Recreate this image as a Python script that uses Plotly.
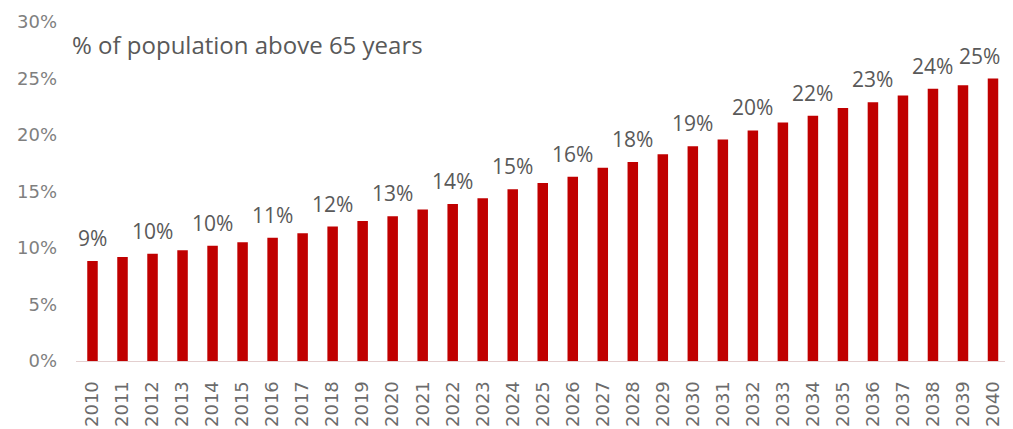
import plotly.graph_objects as go

years = [str(y) for y in range(2010, 2041)]
share_65plus = [8.85, 9.2, 9.5, 9.8, 10.2, 10.5, 10.9, 11.3, 11.9, 12.4,
                12.8, 13.4, 13.9, 14.4, 15.2, 15.75, 16.3, 17.1, 17.6, 18.3,
                19.0, 19.6, 20.4, 21.1, 21.7, 22.4, 22.9, 23.5, 24.1, 24.4, 25.0]
label_years = ["2010", "2012", "2014", "2016", "2018", "2020", "2022", "2024",
               "2026", "2028", "2030", "2032", "2034", "2036", "2038", "2040"]
label_texts = ["9%", "10%", "10%", "11%", "12%", "13%", "14%", "15%",
               "16%", "18%", "19%", "20%", "22%", "23%", "24%", "25%"]
y_ticks = [0, 5, 10, 15, 20, 25, 30]
y_tick_text = ["0%", "5%", "10%", "15%", "20%", "25%", "30%"]
title_text = "% of population above 65 years"

FONT = "Open Sans"
TICK_FONT = "DejaVu Sans"

L, R, T, B = 68, 13, 14, 76
W, H = 1013, 429
PW = W - L - R
PH = H - T - B

fig = go.Figure()
fig.add_trace(go.Bar(
    x=years, y=share_65plus,
    marker=dict(color="#C00000", line=dict(width=0)),
    hoverinfo="skip",
))

for yr, txt in zip(label_years, label_texts):
    idx = years.index(yr)
    val = share_65plus[idx]
    fig.add_annotation(
        x=idx, y=val, text=txt, showarrow=False,
        xref="x", yref="y", yanchor="bottom", yshift=7,
        xshift=-13 if idx == len(years) - 1 else 0,
        font=dict(family=FONT, size=21, color="#595959"),
    )

fig.add_annotation(
    x=-6 / PW, y=(PH + T - 37) / PH, xref="paper", yref="paper",
    text=title_text, showarrow=False, xanchor="left", yanchor="middle",
    font=dict(family=FONT, size=24, color="#595959"),
)

fig.update_layout(
    width=W, height=H,
    margin=dict(l=L, r=R, t=T, b=B, autoexpand=False),
    paper_bgcolor="white", plot_bgcolor="white",
    bargap=0.65,
    showlegend=False,
    xaxis=dict(
        type="category", tickangle=-90, showgrid=False, zeroline=False,
        showline=True, linecolor="#e3cfcf", linewidth=1,
        ticks="", ticklabelstandoff=12, automargin=False,
        tickfont=dict(family=TICK_FONT, size=18, color="#6b6b6b"),
    ),
    yaxis=dict(
        range=[0, 30], tickvals=y_ticks, ticktext=y_tick_text,
        showgrid=False, zeroline=False, showline=False, ticks="",
        ticklabelstandoff=18, automargin=False,
        tickfont=dict(family=TICK_FONT, size=18, color="#7f7f7f"),
    ),
)

fig.write_html("out.html")
